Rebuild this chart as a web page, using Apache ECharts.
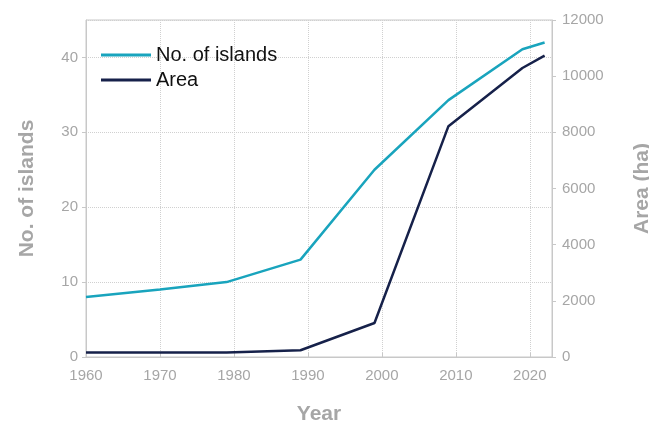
<!DOCTYPE html>
<html>
<head>
<meta charset="utf-8">
<script src="https://cdn.jsdelivr.net/npm/echarts@6/dist/echarts.min.js"></script>
<style>
  html, body { margin: 0; padding: 0; background: #fff; }
  #chart { width: 649px; height: 428px; }
</style>
</head>
<body>
<div id="chart"></div>
<script>
// 数据
const years = [1960, 1970, 1979, 1989, 1999, 2009, 2019, 2022];
const islands = [8, 9, 10, 13, 25, 34.3, 41.1, 42];
const areaYears = [1960, 1979, 1989, 1999, 2009, 2019, 2022];
const area = [160, 160, 240, 1210, 8220, 10290, 10730];

const grey = "#a6a6a6";
const chart = echarts.init(document.getElementById("chart"));

const option = {
  animation: false,
  textStyle: { fontFamily: "Liberation Sans, Arial, sans-serif" },
  grid: {
    left: 86,
    right: 97,
    top: 20,
    bottom: 71,
    outerBoundsMode: "none",
    show: true,
    borderColor: "#c8c8c8",
    borderWidth: 1,
  },
  legend: {
    orient: "vertical",
    left: 96,
    top: 40,
    itemWidth: 50,
    itemHeight: 3,
    itemGap: 5,
    icon: "rect",
    textStyle: { color: "#111", fontSize: 20 },
    data: ["No. of islands", "Area"],
  },
  xAxis: {
    type: "value",
    min: 1960,
    max: 2023,
    interval: 10,
    name: "Year",
    nameLocation: "middle",
    nameGap: 47,
    nameTextStyle: { color: grey, fontSize: 21, fontWeight: "bold" },
    axisLine: { lineStyle: { color: "#c8c8c8" } },
    axisTick: { show: true, inside: true, length: 4, lineStyle: { color: "#c8c8c8" } },
    axisLabel: { color: grey, fontSize: 15, margin: 11, showMaxLabel: false, formatter: (v) => String(v) },
    splitLine: { show: true, lineStyle: { color: "#d0d0d0", type: "dotted" } },
  },
  yAxis: [
    {
      type: "value",
      min: 0,
      max: 45,
      interval: 10,
      name: "No. of islands",
      nameLocation: "middle",
      nameGap: 48,
      nameTextStyle: { color: grey, fontSize: 21, fontWeight: "bold" },
      axisLine: { show: true, lineStyle: { color: "#c8c8c8" } },
      axisTick: { show: true, length: 4, lineStyle: { color: "#c8c8c8" } },
      axisLabel: { color: grey, fontSize: 15, margin: 8, showMaxLabel: false },
      splitLine: { show: true, lineStyle: { color: "#d0d0d0", type: "dotted" } },
    },
    {
      type: "value",
      min: 0,
      max: 12000,
      interval: 2000,
      position: "right",
      name: "Area (ha)",
      nameLocation: "middle",
      nameGap: 80,
      nameTextStyle: { color: grey, fontSize: 21, fontWeight: "bold" },
      axisLine: { show: true, lineStyle: { color: "#c8c8c8" } },
      axisTick: { show: true, length: 4, lineStyle: { color: "#c8c8c8" } },
      axisLabel: { color: grey, fontSize: 15, margin: 10, formatter: (v) => String(v) },
      splitLine: { show: false },
    },
  ],
  series: [
    {
      name: "No. of islands",
      type: "line",
      yAxisIndex: 0,
      data: years.map((y, i) => [y, islands[i]]),
      showSymbol: false,
      symbol: "none",
      lineStyle: { color: "#19a4bd", width: 2.5 },
      itemStyle: { color: "#19a4bd" },
    },
    {
      name: "Area",
      type: "line",
      yAxisIndex: 1,
      data: areaYears.map((y, i) => [y, area[i]]),
      showSymbol: false,
      symbol: "none",
      lineStyle: { color: "#16214a", width: 2.5 },
      itemStyle: { color: "#16214a" },
    },
  ],
};

chart.setOption(option);
</script>
</body>
</html>
